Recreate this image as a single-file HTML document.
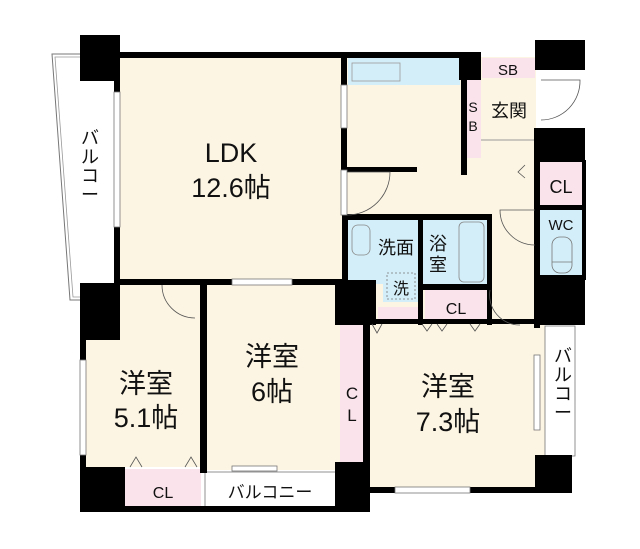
<!DOCTYPE html>
<html><head><meta charset="utf-8"><style>
html,body{margin:0;padding:0;background:#fff;width:640px;height:549px;overflow:hidden}
svg{display:block}
text{font-family:"Liberation Sans","Noto Sans CJK JP",sans-serif;fill:#111}
</style></head><body>
<svg width="640" height="549" viewBox="0 0 640 549" xmlns="http://www.w3.org/2000/svg">
<polygon points="52,54 80,54 118,54 118,300 70,300" fill="#fff" stroke="#777" stroke-width="1"/>
<polygon points="55,57 118,57 118,297 73,297" fill="none" stroke="#999" stroke-width="0.8"/>
<rect x="118" y="57" width="228" height="226" fill="#fdf5e3"/>
<rect x="346" y="57" width="190" height="270" fill="#fdf5e3"/>
<rect x="85" y="285" width="118" height="182" fill="#fdf5e3"/>
<rect x="205" y="285" width="136" height="185" fill="#fdf5e3"/>
<rect x="368" y="322" width="177" height="168" fill="#fdf5e3"/>
<rect x="348" y="58" width="112" height="27" fill="#d3eef8"/>
<rect x="352" y="63" width="48" height="18" fill="#d3eef8" stroke="#999" stroke-width="0.8"/>
<rect x="482" y="58" width="53" height="20" fill="#fbe3ec"/>
<rect x="466" y="80" width="15" height="78" fill="#fbe3ec"/>
<line x1="481" y1="140" x2="535" y2="140" stroke="#999"/>
<rect x="540" y="162" width="42" height="43" fill="#fbe3ec"/>
<rect x="540" y="210" width="42" height="66" fill="#d3eef8"/>
<rect x="552" y="237" width="20" height="36" rx="8" fill="#d3eef8" stroke="#777" stroke-width="0.8"/>
<line x1="552" y1="262" x2="572" y2="262" stroke="#777" stroke-width="0.8"/>
<rect x="347" y="220" width="74" height="64" fill="#d3eef8"/>
<rect x="383" y="270" width="35" height="32" fill="#d3eef8"/>
<rect x="387" y="273" width="28" height="26" fill="none" stroke="#777" stroke-dasharray="2,2" stroke-width="0.8"/>
<rect x="423" y="220" width="64" height="64" fill="#d3eef8"/>
<rect x="459" y="222" width="25" height="60" rx="5" fill="none" stroke="#888" stroke-width="0.8"/>
<rect x="352" y="225" width="18" height="30" rx="6" fill="none" stroke="#888" stroke-width="0.8"/>
<rect x="425" y="290" width="63" height="32" fill="#fbe3ec"/>
<rect x="378" y="307" width="40" height="12" fill="#fbe3ec"/>
<rect x="340" y="325" width="23" height="150" fill="#fbe3ec"/>
<rect x="125" y="469" width="76" height="38" fill="#fbe3ec"/>
<rect x="205" y="472" width="132" height="38" fill="#fff" stroke="#777" stroke-width="0.8"/>
<rect x="545" y="326" width="30" height="130" fill="#fff" stroke="#777" stroke-width="0.8"/>
<g fill="#000">
<rect x="80" y="35" width="40" height="46"/>
<rect x="118" y="52" width="347" height="6"/>
<rect x="114" y="80" width="6" height="203"/>
<rect x="341" y="57" width="6" height="28"/>
<rect x="341" y="128" width="6" height="42"/>
<rect x="341" y="167" width="76" height="5"/>
<rect x="459" y="52" width="22" height="28"/>
<rect x="461" y="78" width="6" height="97"/>
<rect x="535" y="40" width="50" height="30"/>
<rect x="535" y="128" width="50" height="34"/>
<rect x="535" y="60" width="6" height="10"/>
<rect x="534" y="128" width="6" height="200"/>
<rect x="582" y="160" width="4" height="120"/>
<rect x="535" y="205" width="50" height="5"/>
<rect x="535" y="275" width="50" height="50"/>
<rect x="342" y="214" width="150" height="6"/>
<rect x="342" y="214" width="6" height="111"/>
<rect x="418" y="214" width="5" height="111"/>
<rect x="487" y="214" width="5" height="111"/>
<rect x="420" y="284" width="70" height="6"/>
<rect x="342" y="280" width="34" height="45"/>
<rect x="114" y="279" width="233" height="6"/>
<rect x="80" y="283" width="40" height="57"/>
<rect x="80" y="340" width="6" height="130"/>
<rect x="200" y="283" width="7" height="190"/>
<rect x="80" y="467" width="45" height="45"/>
<rect x="80" y="506" width="290" height="6"/>
<rect x="335" y="462" width="33" height="50"/>
<rect x="335" y="280" width="8" height="45"/>
<rect x="363" y="320" width="7" height="192"/>
<rect x="368" y="487" width="200" height="6"/>
<rect x="535" y="455" width="37" height="38"/>
<rect x="370" y="319" width="170" height="5"/>
</g>
<g fill="#fff" stroke="#777" stroke-width="0.8">
<rect x="114" y="92" width="6" height="135"/>
<rect x="80" y="360" width="6" height="95"/>
<rect x="232" y="279" width="60" height="6"/>
<rect x="395" y="487" width="75" height="6"/>
<rect x="232" y="466" width="45" height="5"/>
<rect x="341" y="170" width="6" height="45"/>
<rect x="341" y="85" width="6" height="43"/>
<rect x="534" y="355" width="6" height="75"/>
</g>
<g fill="none" stroke="#555" stroke-width="0.8">
<path d="M541,80 L580,80 A39,39 0 0 1 541,120"/>
<path d="M347,172 L390,172 A43,43 0 0 1 347,215"/>
<path d="M535,210 L500,210 A35,35 0 0 0 535,245"/>
<path d="M490,290 A30,30 0 0 0 520,325"/>
<path d="M162,285 A33,33 0 0 0 195,318"/>
<path d="M525,165 L518,172 L525,178"/>
<path d="M130,467 L136,457 L142,467 M185,467 L191,457 L197,467"/>
<path d="M372,324 L377,333 L382,324 M422,324 L427,331 L432,324 M437,324 L442,331 L447,324 M470,324 L475,331 L480,324"/>
</g>
<text x="231" y="162" font-size="27" text-anchor="middle">LDK</text>
<text x="231" y="197" font-size="27" text-anchor="middle">12.6帖</text>
<g font-size="18" text-anchor="middle">
<text x="90" y="144">バ</text><text x="90" y="163">ル</text><text x="90" y="182">コ</text><text x="90" y="201">ー</text>
<text x="563" y="362">バ</text><text x="563" y="381">ル</text><text x="563" y="400">コ</text><text x="563" y="419">ー</text>
</g>
<text x="508" y="75" font-size="15" text-anchor="middle">SB</text>
<text x="473" y="112" font-size="14" text-anchor="middle">S</text>
<text x="473" y="131" font-size="14" text-anchor="middle">B</text>
<text x="509" y="117" font-size="18" text-anchor="middle">玄関</text>
<text x="561" y="193" font-size="18" text-anchor="middle">CL</text>
<text x="561" y="230" font-size="15" text-anchor="middle">WC</text>
<text x="396" y="254" font-size="18" text-anchor="middle">洗面</text>
<text x="438" y="250" font-size="18" text-anchor="middle">浴</text>
<text x="438" y="271" font-size="18" text-anchor="middle">室</text>
<text x="401" y="294" font-size="16" text-anchor="middle">洗</text>
<text x="456" y="314" font-size="16" text-anchor="middle">CL</text>
<text x="146" y="393" font-size="27" text-anchor="middle">洋室</text>
<text x="146" y="427" font-size="27" text-anchor="middle">5.1帖</text>
<text x="272" y="366" font-size="27" text-anchor="middle">洋室</text>
<text x="272" y="401" font-size="27" text-anchor="middle">6帖</text>
<text x="448" y="396" font-size="27" text-anchor="middle">洋室</text>
<text x="448" y="431" font-size="27" text-anchor="middle">7.3帖</text>
<text x="352" y="399" font-size="17" text-anchor="middle">C</text>
<text x="352" y="421" font-size="17" text-anchor="middle">L</text>
<text x="163" y="498" font-size="16" text-anchor="middle">CL</text>
<text x="270" y="498" font-size="17" text-anchor="middle">バルコニー</text>
</svg>
</body></html>
